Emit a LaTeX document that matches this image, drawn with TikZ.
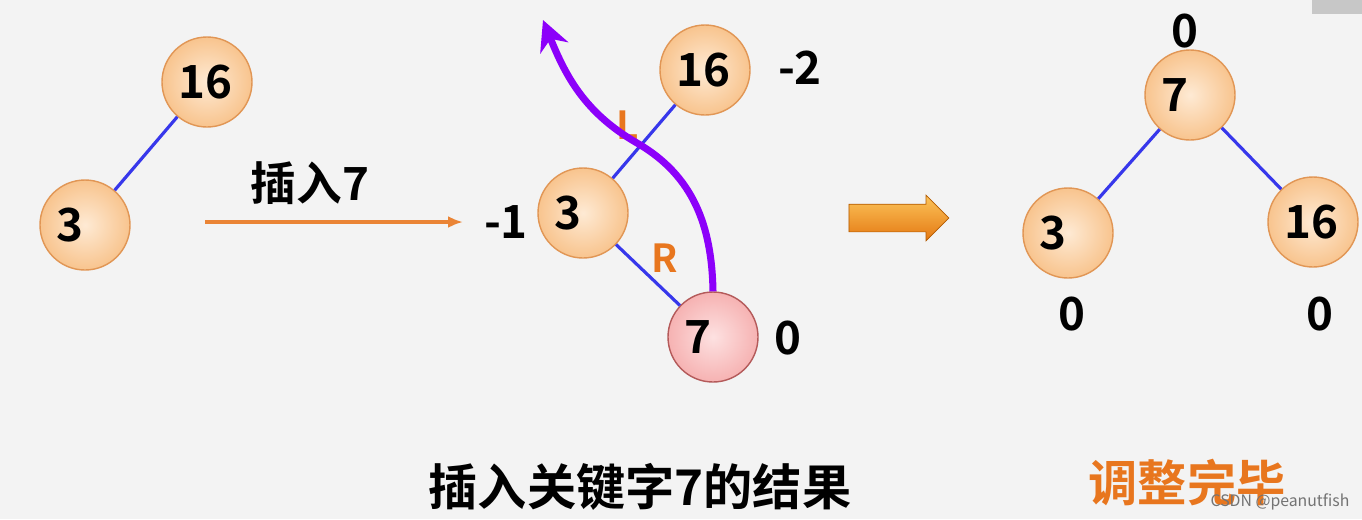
\documentclass[tikz,border=0pt]{standalone}
\usepackage{fontspec}
\setmainfont{Noto Sans CJK SC}[BoldFont=* Bold]
\usetikzlibrary{
    arrows.meta,
    positioning,
    shapes.arrows,
}
\definecolor{bgcol}{RGB}{243,243,243}
\definecolor{edgeblue}{RGB}{55,55,235}
\definecolor{rotpurple}{RGB}{140,0,250}
\definecolor{labelorange}{RGB}{232,118,30}
\definecolor{peachin}{RGB}{254,234,212}
\definecolor{peachout}{RGB}{248,196,142}
\definecolor{peachline}{RGB}{225,150,85}
\definecolor{pinkin}{RGB}{253,225,225}
\definecolor{pinkout}{RGB}{246,178,178}
\definecolor{pinkline}{RGB}{180,90,90}

\begin{document}
\begin{tikzpicture}[
        key/.style={circle, draw=peachline, thick, inner color=peachin,
            outer color=peachout, minimum size=18mm, inner sep=0pt,
            text width=11.4mm, align=left,
            font=\fontsize{26}{28}\selectfont\bfseries},
        newkey/.style={key, draw=pinkline, inner color=pinkin, outer color=pinkout},
        bal/.style={font=\fontsize{26}{28}\selectfont\bfseries, inner sep=0pt},
        rot/.style={font=\fontsize{22}{24}\selectfont\bfseries, text=labelorange},
        link/.style={draw=edgeblue, line width=1.8pt},
    ]
        % background
        \fill[bgcol] (0,0) rectangle (27.24,-10.38);
        \fill[black!22] (26.24,0) rectangle (27.24,-0.28);

        % before insertion
        \node[key] (a16) at (4.14,-1.64) {16};
        \node[key] (a3) at (1.70,-4.50) {3};
        \draw[link] (a16) -- (a3);

        % insert arrow
        \node[font=\fontsize{26}{28}\selectfont\bfseries] (ins) at (6.20,-3.66) {插入7};
        \coordinate (insA) at (4.10,-4.44);
        \coordinate (insB) at (9.26,-4.44);
        \draw[labelorange!90, line width=2pt, -{Latex[length=3mm,width=2.4mm]}] (insA) -- (insB);

        % after insertion
        \node[key] (b16) at (14.10,-1.40) {16};
        \node[key] (b3) at (11.66,-4.26) {3};
        \node[newkey] (b7) at (14.26,-6.74) {7};
        \draw[link] (b16) -- (b3);
        \draw[link] (b3) -- (b7);
        \node[bal] (f16) at (16.00,-1.36) {-2};
        \node[bal] (f3) at (10.12,-4.44) {-1};
        \node[bal] (f7) at (15.76,-6.76) {0};
        \node[rot] (L) at (12.56,-2.50) {L};
        \node[rot] (R) at (13.30,-5.16) {R};

        % LR rotation path
        \coordinate (bend) at (12.74,-2.86);
        \coordinate (tip) at (10.86,-0.40);
        \draw[rotpurple, line width=4pt, -{Stealth[length=6mm,width=6mm]}]
            (b7.north) to[out=91, in=-30] (bend) to[out=150, in=-68] (tip);

        % block arrow
        \node[single arrow, draw=orange!70!black, thin, inner sep=0.27cm,
            single arrow head extend=0.18cm, minimum height=2cm,
            top color={rgb,255:red,252;green,196;blue,90},
            bottom color={rgb,255:red,228;green,120;blue,18}] (go) at (17.84,-4.36) {};

        % after rebalance
        \node[key] (c7) at (23.80,-1.90) {7};
        \node[key] (c3) at (21.36,-4.66) {3};
        \node[key] (c16) at (26.26,-4.44) {16};
        \draw[link] (c7) -- (c3);
        \draw[link] (c7) -- (c16);
        \node[bal] (g7) at (23.70,-0.62) {0};
        \node[bal] (g3) at (21.44,-6.28) {0};
        \node[bal] (g16) at (26.40,-6.28) {0};

        % captions
        \node[font=\fontsize{28}{30}\selectfont\bfseries] (cap1) at (12.80,-9.74) {插入关键字7的结果};
        \node[font=\fontsize{28}{30}\selectfont\bfseries, text=labelorange] (cap2) at (23.74,-9.66) {调整完毕};
        \node[font=\fontsize{9}{10}\selectfont, text=black!55, inner sep=0pt] (mark) at (25.60,-10.04) {CSDN @peanutfish};
    \end{tikzpicture}
\end{document}
